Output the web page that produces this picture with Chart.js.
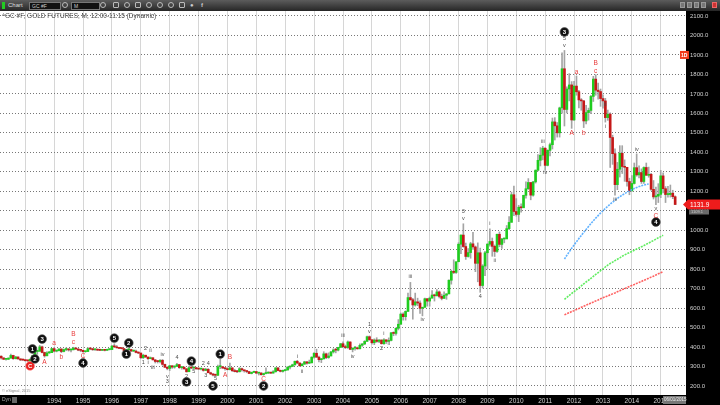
<!DOCTYPE html>
<html><head><meta charset="utf-8">
<script src="https://cdn.jsdelivr.net/npm/chart.js@4/dist/chart.umd.min.js"></script>
<style>
html,body{margin:0;padding:0;background:#000;width:720px;height:405px;overflow:hidden;font-family:"Liberation Sans",Arial,sans-serif}
#bar{position:absolute;left:0;top:0;width:720px;height:11px;background:linear-gradient(#5c5c5c,#262626);font-size:6px;color:#ddd;line-height:11px}
#bar span{position:absolute;top:0}
.box{position:absolute;top:2px;height:6px;line-height:6px;background:#111;border:1px solid #777;color:#ccc;font-size:5px;padding-left:2px}
.ic{position:absolute;top:2px;width:6px;height:6px;border:1px solid #bbb;border-radius:50%;box-sizing:border-box}
.wb{position:absolute;top:2px;width:5px;height:6px;background:#777;border:1px solid #999;box-sizing:border-box}
#wrap{position:absolute;left:0;top:11px;width:720px;height:394px}
</style></head>
<body>
<div id="bar">
 <div style="position:absolute;left:2px;top:2px;width:3px;height:7px;background:#2c2"></div>
 <span style="left:8px">Chart</span>
 <div class="box" style="left:29px;width:28px">GC #F</div>
 <div class="ic" style="left:62px"></div>
 <div class="box" style="left:71px;width:25px">M</div>
 <div class="ic" style="left:100px"></div>
 <div class="ic" style="left:113px;border-radius:1px"></div>
 <div class="ic" style="left:124px"></div>
 <div class="ic" style="left:135px;border-radius:1px"></div>
 <div class="ic" style="left:146px"></div>
 <div class="ic" style="left:157px"></div>
 <div class="ic" style="left:168px"></div>
 <div class="ic" style="left:179px;border-radius:1px"></div>
 <span style="left:190px;color:#ccc">&#9679;</span>
 <span style="left:201px;color:#ccc;font-weight:bold">f</span>
 <div class="wb" style="left:680px"></div>
 <div class="wb" style="left:687px"></div>
 <div class="wb" style="left:694px"></div>
 <div class="wb" style="left:701px"></div>
 <div class="wb" style="left:712px;background:#c33;border-color:#e66"></div>
</div>
<div id="wrap"><canvas id="c" width="720" height="394"></canvas></div>
<script>
// ---- categories (monthly, Mar 1992 .. plus 4 empty months after Jul 2015)
const startYear = 1992, startMonth = 3, nMonths = 285;
const months = [];
for (let i = 0; i < nMonths; i++) {
  const m = startMonth - 1 + i;
  months.push((startYear + Math.floor(m / 12)) + '-' + String(m % 12 + 1).padStart(2, '0'));
}
const tickYears = ['1994','1995','1996','1997','1998','1999','2000','2001','2002','2003','2004','2005','2006','2007','2008','2009','2010','2011','2012','2013','2014','2015'];
const yTicks = [200,300,400,500,600,700,800,900,1000,1100,1200,1300,1400,1500,1600,1700,1800,1900,2000,2100];

// ---- monthly OHLC (Mar 1992 .. Jul 2015)
const open = [
353,344,337,337,343,357,340,349,339,334,
333,330,329,337,355,377,378,401,372,355,370,371,
392,379,381,390,377,387,388,385,386,395,390,384,
383,376,377,392,390,386,387,384,383,384,383,387,
387,405,401,396,393,392,382,386,387,379,379,372,
369,345,358,349,340,345,334,326,325,332,311,296,
290,304,297,301,310,294,297,288,273,294,292,294,
288,287,288,280,286,268,262,256,255,299,299,292,
289,284,293,278,274,273,289,283,278,274,264,270,
274,266,267,258,264,266,271,266,273,293,279,275,
279,282,297,301,309,327,318,304,312,324,317,319,
348,368,348,335,339,365,346,354,375,385,384,398,
417,402,397,426,388,394,395,391,409,416,429,453,
438,422,436,429,436,417,437,429,434,473,470,496,
517,569,556,583,654,643,616,632,626,599,604,648,
636,651,667,663,683,660,650,666,673,743,789,783,
838,928,975,916,865,885,930,914,830,884,716,816,
884,928,942,917,891,979,927,955,955,1008,1040,1182,
1096,1081,1118,1115,1179,1213,1245,1180,1248,1308,1359,1385,
1421,1333,1410,1439,1556,1536,1500,1628,1829,1620,1725,1746,
1566,1740,1711,1669,1664,1561,1604,1615,1687,1776,1719,1712,
1676,1664,1578,1596,1476,1393,1234,1313,1395,1327,1323,1250,
1202,1240,1321,1284,1296,1250,1322,1282,1287,1210,1171,1175,
1184,1279,1213,1183,1183,1190,1172
];
const high = [
355,345,341,345,364,358,352,350,340,338,
334,333,340,357,381,384,409,405,374,377,378,393,
397,385,392,391,390,396,392,389,399,397,392,386,
384,380,397,396,393,391,390,390,387,387,390,389,
409,417,408,398,395,392,388,391,389,384,385,375,
370,363,358,349,349,345,336,331,336,336,313,300,
306,304,304,316,310,300,297,290,302,305,299,296,
291,291,290,291,289,271,264,261,307,339,301,293,
293,317,294,286,280,295,292,282,279,274,272,277,
275,270,268,266,293,273,271,279,294,294,282,282,
284,299,304,312,328,332,319,316,327,325,333,350,
371,389,353,341,376,369,370,378,391,393,399,418,
427,410,431,427,396,404,400,416,418,433,456,457,
428,442,448,438,437,443,437,447,475,478,499,541,
575,576,586,677,732,650,677,651,637,605,652,649,
657,690,672,695,688,672,684,674,745,795,848,838,
936,976,1033,934,905,938,989,919,935,908,823,891,
932,1007,960,924,980,991,958,959,1024,1070,1195,1227,
1162,1128,1136,1180,1249,1265,1243,1251,1310,1388,1424,1431,
1424,1413,1447,1576,1578,1553,1632,1911,1923,1736,1804,1763,
1764,1792,1718,1676,1667,1641,1627,1693,1790,1798,1755,1725,
1695,1677,1617,1603,1488,1418,1348,1434,1434,1361,1322,1267,
1280,1345,1392,1331,1315,1325,1345,1324,1292,1255,1222,1239,
1307,1294,1224,1225,1232,1205,1176
];
const low = [
338,336,333,336,343,337,339,338,330,331,
327,326,326,336,352,362,379,370,348,355,367,371,
375,375,380,371,375,381,379,375,385,387,381,376,
373,373,376,386,383,383,382,381,382,380,382,385,
386,398,395,391,390,380,381,384,378,377,370,366,
341,341,346,337,340,334,318,318,318,306,295,283,
279,290,291,299,290,286,286,271,274,289,290,286,
284,282,276,279,268,258,252,252,253,289,290,281,
282,282,275,272,269,272,276,271,268,263,262,268,
264,256,256,255,262,264,264,266,271,277,272,271,
277,282,288,299,306,314,301,303,311,312,315,318,
343,347,323,320,339,340,342,354,369,370,380,398,
399,392,393,387,375,384,389,390,403,412,429,434,
415,412,424,423,415,414,418,431,432,458,461,488,
517,538,538,583,640,543,610,612,573,560,604,610,
610,651,636,663,652,642,648,645,673,723,777,778,
838,880,912,850,862,856,901,787,735,681,703,767,
801,918,866,865,886,915,907,935,993,1003,1043,1075,
1072,1044,1092,1119,1164,1209,1156,1175,1242,1305,1330,1361,
1308,1330,1382,1417,1463,1478,1478,1601,1535,1602,1664,1523,
1564,1693,1628,1616,1527,1546,1565,1598,1661,1693,1673,1636,
1627,1555,1564,1322,1338,1180,1208,1273,1291,1251,1226,1182,
1200,1237,1277,1268,1240,1240,1282,1272,1204,1160,1131,1142,
1167,1191,1142,1170,1170,1162,1131
];
const close = [
344,337,337,343,357,340,349,339,334,333,
330,329,337,355,377,378,401,372,355,370,371,392,
379,381,390,377,387,388,385,386,395,390,384,383,
376,377,392,390,386,387,384,383,384,383,387,387,
405,401,396,393,392,382,386,387,379,379,372,369,
345,358,349,340,345,334,326,325,332,311,296,290,
304,297,301,310,294,297,288,273,294,292,294,288,
287,288,280,286,268,262,256,255,299,299,292,289,
284,293,278,274,273,289,283,278,274,264,270,274,
266,267,258,264,266,271,266,273,293,279,275,279,
282,297,301,309,327,318,304,312,324,317,319,348,
368,348,335,339,365,346,354,375,385,384,398,417,
402,397,426,388,394,395,391,409,416,429,453,438,
422,436,429,436,417,437,429,434,473,470,496,517,
569,556,583,654,643,616,632,626,599,604,648,636,
651,667,663,683,660,650,666,673,743,789,783,838,
928,975,916,865,885,930,914,830,884,716,816,884,
928,942,917,891,979,927,955,955,1008,1040,1182,1096,
1081,1118,1115,1179,1213,1245,1180,1248,1308,1359,1385,1421,
1333,1410,1439,1556,1536,1500,1628,1829,1620,1725,1746,1566,
1740,1711,1669,1664,1561,1604,1615,1687,1776,1719,1712,1676,
1664,1578,1596,1476,1393,1234,1313,1395,1327,1323,1250,1202,
1240,1321,1284,1296,1250,1322,1282,1287,1210,1171,1175,1184,
1279,1213,1183,1183,1190,1172,1131.9
];

// ---- moving-average style lines (only drawn over the late section)
const maBlueStart = '2011-09';
const maBlue = [852,871,889,907,924,941,957,973,989,1004,1019,1034,1048,1062,1075,1088,1100,1112,1123,1134,1144,1154,1163,1172,1180,1188,1195,1202,1208,1214,1219,1224,1228,1232,1235,1237];
const maGreenStart = '2011-09';
const maGreen = [645,655,665,675,684,694,704,714,724,734,743,753,763,773,782,792,801,811,821,829,836,844,851,858,866,873,879,885,891,897,903,909,915,921,928,934,941,947,954,961,967,974];
const maRedStart = '2011-09';
const maRed = [565,571,576,582,587,593,598,604,609,615,620,626,631,637,642,648,653,658,662,668,673,678,684,689,695,700,705,711,716,721,727,732,737,743,748,753,759,764,770,776,781,787];

// ---- wave annotations: [text, month, price, kind]  (c = black circle, rc = red circle, r = red text, g = grey text)
const waveMarks = [
['C','1993-03',303,'rc'],['1','1993-04',390,'c'],['2','1993-05',339,'c'],['3','1993-08',441,'c'],
['4','1995-01',318,'c'],['5','1996-02',446,'c'],['1','1996-07',364,'c'],['2','1996-08',421,'c'],
['3','1998-08',221,'c'],['4','1998-10',328,'c'],['5','1999-07',200,'c'],['1','1999-10',364,'c'],
['2','2001-04',200,'c'],['3','2011-09',2018,'c'],['4','2014-11',1042,'c'],
['A','1993-09',323,'r'],['a','1994-01',421,'r'],['b','1994-04',349,'r'],['B','1994-09',467,'r'],['c','1994-09',426,'r'],['C','1995-01',354,'r'],
['A','1999-12',253,'r'],['B','2000-02',350,'r'],['C','2001-04',236,'r'],
['A','2011-12',1499,'r'],['a','2012-02',1813,'r'],['b','2012-05',1499,'r'],['B','2012-10',1859,'r'],['c','2012-10',1818,'r'],['C','2014-11',1073,'r'],
['2','1997-03',395,'g'],['ii','1997-05',380,'g'],['1','1997-02',323,'g'],['i','1997-04',323,'g'],['iii','1997-06',294,'g'],['iv','1997-10',363,'g'],
['4','1998-04',344,'g'],['v','1997-12',251,'g'],['3','1997-12',221,'g'],['2','1998-08',251,'g'],['5','1998-11',272,'g'],
['2','1999-03',318,'g'],['4','1999-05',318,'g'],['3','1999-04',256,'g'],['5','1999-08',236,'g'],
['i','2002-06',354,'g'],['ii','2002-08',277,'g'],['iii','2004-01',457,'g'],['iv','2004-05',349,'g'],['1','2004-12',518,'g'],['v','2004-12',482,'g'],
['i','2005-06',472,'g'],['2','2005-05',395,'g'],['ii','2005-08',416,'g'],['iii','2006-05',760,'g'],['iv','2006-10',539,'g'],
['3','2008-03',1094,'g'],['v','2008-03',1058,'g'],['i','2009-02',1037,'g'],['ii','2009-04',842,'g'],['4','2008-10',662,'g'],
['iii','2010-12',1458,'g'],['iv','2011-01',1294,'g'],['5','2011-09',1982,'g'],['v','2011-09',1946,'g'],
['ii','2013-02',1643,'g'],['i','2013-02',1535,'g'],['iii','2013-06',1160,'g'],['iv','2014-03',1417,'g'],['v','2014-11',1109,'g']
];
const lastPrice = 1131.9;
const alertPrice = 1900;

// ---- build datasets
const body = open.map((o, i) => [o, close[i]]);
const wick = low.map((l, i) => [l, high[i]]);
const bodyColors = open.map((o, i) => close[i] >= o ? '#1fcc1f' : '#c41818');
function align(start, arr) {
  const s = months.indexOf(start);
  return months.map((m, i) => (i - s >= 0 && i - s < arr.length) ? arr[i - s] : null);
}
const FONT = '"Liberation Sans", Arial, sans-serif';

const bgPlugin = {
  id: 'bg',
  beforeDraw(chart) {
    const { ctx, chartArea: a } = chart;
    ctx.save();
    ctx.fillStyle = '#000';
    ctx.fillRect(0, 0, chart.width, chart.height);
    ctx.fillStyle = '#fff';
    ctx.fillRect(a.left, a.top, a.right - a.left, a.bottom - a.top);
    ctx.restore();
  }
};
const annoPlugin = {
  id: 'anno',
  afterDatasetsDraw(chart) {
    const { ctx, scales: { x, y } } = chart;
    ctx.save();
    ctx.textAlign = 'center';
    ctx.textBaseline = 'middle';
    for (const [t, d, p, k] of waveMarks) {
      const px = x.getPixelForValue(months.indexOf(d));
      const py = y.getPixelForValue(p);
      if (k === 'c' || k === 'rc') {
        ctx.beginPath();
        ctx.arc(px, py, 4.4, 0, Math.PI * 2);
        ctx.fillStyle = k === 'c' ? '#111' : '#e82222';
        ctx.fill();
        ctx.lineWidth = 0.6;
        ctx.strokeStyle = k === 'c' ? '#555' : '#ff8080';
        ctx.stroke();
        ctx.fillStyle = '#fff';
        ctx.font = 'bold 6px ' + FONT;
        ctx.fillText(t, px, py + 0.4);
      } else {
        ctx.fillStyle = k === 'r' ? '#e83a3a' : '#4a4a4a';
        ctx.font = (k === 'r' ? '6.5px ' : '5.5px ') + FONT;
        ctx.fillText(t, px, py);
      }
    }
    ctx.restore();
  },
  afterDraw(chart) {
    const { ctx, chartArea: a, scales: { y } } = chart;
    ctx.save();
    // title
    ctx.fillStyle = '#444';
    ctx.font = '6.5px ' + FONT;
    ctx.textBaseline = 'middle';
    ctx.textAlign = 'left';
    ctx.fillText('^GC #F, GOLD FUTURES, M, 12:00-11:15 (Dynamic)', 2, a.top + 5.5);
    // copyright
    ctx.fillStyle = '#888';
    ctx.font = '4px ' + FONT;
    ctx.fillText('\u00A9 eSignal, 2015', 2, a.bottom - 4);
    // last price box
    const py = y.getPixelForValue(lastPrice);
    ctx.fillStyle = '#ee1c1c';
    ctx.beginPath();
    ctx.moveTo(a.right - 3, py);
    ctx.lineTo(a.right + 2, py - 5);
    ctx.lineTo(chart.width, py - 5);
    ctx.lineTo(chart.width, py + 5);
    ctx.lineTo(a.right + 2, py + 5);
    ctx.closePath();
    ctx.fill();
    ctx.fillStyle = '#fff';
    ctx.font = '6.5px ' + FONT;
    ctx.fillText(lastPrice.toFixed(1), a.right + 4, py + 0.5);
    ctx.fillStyle = '#6a6a6a';
    ctx.fillRect(a.right + 3, py + 5, 20, 5);
    ctx.fillStyle = '#ccc';
    ctx.font = '4px ' + FONT;
    ctx.fillText('1109.1', a.right + 5, py + 7.6);
    // alert marker
    const ay = y.getPixelForValue(alertPrice);
    ctx.fillStyle = '#f03a1a';
    ctx.fillRect(a.right - 6, ay - 4, 9, 8);
    ctx.fillStyle = '#fff';
    ctx.font = 'bold 5px ' + FONT;
    ctx.fillText('1D', a.right - 5, ay + 0.3);
    // date box
    ctx.fillStyle = '#777';
    ctx.fillRect(663, a.bottom + 1, 23, 8);
    ctx.fillStyle = '#eee';
    ctx.font = '4.5px ' + FONT;
    ctx.fillText('06/01/2015', 664, a.bottom + 5);
    // Dyn
    ctx.fillStyle = '#aaa';
    ctx.font = '5px ' + FONT;
    ctx.fillText('Dyn', 2, a.bottom + 5);
    ctx.fillStyle = '#666';
    ctx.fillRect(12, a.bottom + 2, 5, 6);
    ctx.restore();
  }
};

new Chart(document.getElementById('c'), {
  type: 'bar',
  data: {
    labels: months,
    datasets: [
      { type: 'line', data: align(maBlueStart, maBlue), borderColor: 'rgba(80,170,255,0.9)', borderWidth: 1.6, borderDash: [2, 1], pointRadius: 0, order: -3, spanGaps: false },
      { type: 'line', data: align(maGreenStart, maGreen), borderColor: 'rgba(80,235,80,0.9)', borderWidth: 1.6, borderDash: [2, 1], pointRadius: 0, order: -2, spanGaps: false },
      { type: 'line', data: align(maRedStart, maRed), borderColor: 'rgba(255,80,80,0.9)', borderWidth: 1.6, borderDash: [2, 1], pointRadius: 0, order: -1, spanGaps: false },
      { data: body, backgroundColor: bodyColors, barThickness: 2, minBarLength: 1, grouped: false, order: 0 },
      { data: wick, backgroundColor: '#a4a4a4', barThickness: 1, grouped: false, order: 1 }
    ]
  },
  options: {
    responsive: false,
    animation: false,
    layout: { padding: 0 },
    plugins: { legend: { display: false }, tooltip: { enabled: false } },
    scales: {
      x: {
        type: 'category',
        offset: true,
        border: { display: false },
        grid: {
          offset: false,
          drawTicks: false,
          lineWidth: 1,
          color: (c) => (months[c.index] || '').endsWith('-01') ? '#d6d6d6' : 'rgba(0,0,0,0)'
        },
        ticks: {
          autoSkip: false, maxRotation: 0, minRotation: 0, padding: 2,
          color: '#d0d0d0', font: { size: 6.5, family: FONT },
          callback: (v, i) => { const m = months[i]; const yr = m.slice(0, 4); return (m.endsWith('-01') && tickYears.includes(yr)) ? yr : ''; }
        },
        afterFit: (s) => { s.height = 10; s.paddingLeft = 0; s.paddingRight = 0; }
      },
      y: {
        type: 'linear',
        position: 'right',
        min: 153.7,
        max: 2125.6,
        border: { display: false, dash: [1, 2] },
        grid: { drawTicks: false, color: '#777', lineWidth: 1 },
        ticks: { padding: 4, color: '#d0d0d0', font: { size: 6, family: FONT }, callback: (v) => Number(v).toFixed(1) },
        afterBuildTicks: (s) => { s.ticks = yTicks.map(v => ({ value: v })); },
        afterFit: (s) => { s.width = 34; s.paddingTop = 0; s.paddingBottom = 0; }
      }
    }
  },
  plugins: [bgPlugin, annoPlugin]
});
</script>
</body></html>
